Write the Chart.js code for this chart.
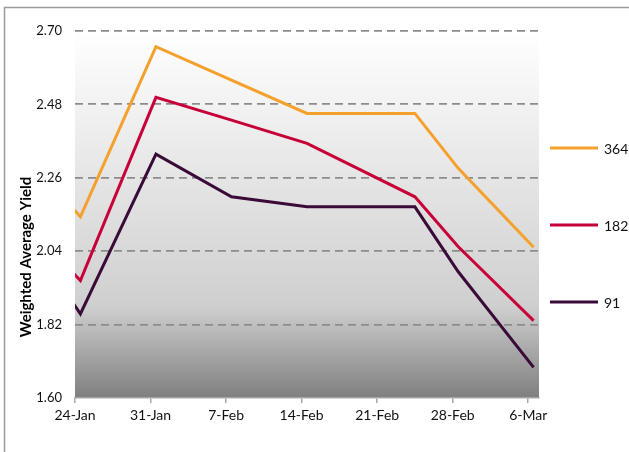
<!DOCTYPE html>
<html>
<head>
<meta charset="utf-8">
<script src="https://cdn.jsdelivr.net/npm/chart.js@4"></script>
<style>
  html, body { margin: 0; padding: 0; background: #fff; }
  #wrap { width: 629px; height: 452px; position: relative; }
</style>
</head>
<body>
<div id="wrap"><canvas id="miGrafica" width="629" height="452"></canvas></div>
<script>
// fechas de las subastas (la primera queda fuera del eje y se recorta)
const fechas = ['2012-01-17', '2012-01-24', '2012-01-31', '2012-02-07', '2012-02-14', '2012-02-24', '2012-02-28', '2012-03-06'];
const serie364 = [2.40, 2.143, 2.653, 2.553, 2.453, 2.453, 2.289, 2.052];
const serie182 = [2.19, 1.952, 2.501, 2.433, 2.363, 2.203, 2.054, 1.832];
const serie91  = [2.19, 1.852, 2.331, 2.203, 2.173, 2.173, 1.979, 1.692];
const etiquetasX = ['24-Jan', '31-Jan', '7-Feb', '14-Feb', '21-Feb', '28-Feb', '6-Mar'];
const nombres = ['364', '182', '91'];
const colores = ['#F5A02C', '#C8003A', '#3A0A38'];

const inicio = new Date('2012-01-24T00:00:00Z');
// dias desde 24-Jan, centrado en la casilla del dia
const dias = fechas.map(f => (new Date(f + 'T00:00:00Z') - inicio) / 86400000 + 0.5);
const puntos = serie => serie.map((v, i) => ({ x: dias[i], y: v }));

const fondo = {
    id: 'fondo',
    beforeDraw(chart) {
        const { ctx, chartArea: a } = chart;
        ctx.save();
        // marco exterior
        ctx.strokeStyle = '#9a9a9a';
        ctx.lineWidth = 1.5;
        ctx.beginPath();
        ctx.moveTo(4.5, 460);
        ctx.lineTo(4.5, 7.5);
        ctx.lineTo(640, 7.5);
        ctx.stroke();
        // degradado del area de trazado
        const g = ctx.createLinearGradient(0, a.top, 0, a.bottom);
        g.addColorStop(0, '#ffffff');
        g.addColorStop(0.45, '#e2e2e2');
        g.addColorStop(0.75, '#cfcfcf');
        g.addColorStop(1, '#7f7f7f');
        ctx.fillStyle = g;
        ctx.fillRect(a.left, a.top, a.right - a.left, a.bottom - a.top);
        ctx.restore();
    },
    afterDraw(chart) {
        const { ctx } = chart;
        ctx.save();
        // titulo del eje Y
        ctx.translate(26, 257);
        ctx.rotate(-Math.PI / 2);
        ctx.font = 'bold 15px Lato';
        ctx.fillStyle = '#000';
        ctx.textAlign = 'center';
        ctx.textBaseline = 'middle';
        ctx.fillText('Weighted Average Yield', 0, 0);
        ctx.restore();
        // leyenda a la derecha
        ctx.save();
        ctx.font = '14px Lato';
        ctx.textBaseline = 'middle';
        chart.data.datasets.forEach((ds, i) => {
            const y = 148 + i * 77;
            ctx.strokeStyle = ds.borderColor;
            ctx.lineWidth = 3;
            ctx.beginPath();
            ctx.moveTo(550, y);
            ctx.lineTo(598, y);
            ctx.stroke();
            ctx.fillStyle = '#111';
            ctx.fillText(ds.label, 604, y + 1);
        });
        ctx.restore();
    }
};

const ctx = document.getElementById('miGrafica').getContext('2d');
new Chart(ctx, {
    type: 'line',
    data: {
        datasets: [
            { label: nombres[0], data: puntos(serie364), borderColor: colores[0], borderWidth: 3, pointRadius: 0, tension: 0, fill: false },
            { label: nombres[1], data: puntos(serie182), borderColor: colores[1], borderWidth: 3, pointRadius: 0, tension: 0, fill: false },
            { label: nombres[2], data: puntos(serie91), borderColor: colores[2], borderWidth: 3, pointRadius: 0, tension: 0, fill: false }
        ]
    },
    options: {
        responsive: false,
        animation: false,
        layout: { padding: { left: 10, right: 90, top: 31, bottom: 0 } },
        plugins: { legend: { display: false }, tooltip: { enabled: false } },
        scales: {
            x: {
                type: 'linear',
                min: 0,
                max: 43,
                afterBuildTicks: s => { s.ticks = etiquetasX.map((_, i) => ({ value: i * 7 })); },
                afterFit: s => { s.height = 54; },
                grid: { drawOnChartArea: false, drawTicks: true, tickLength: 5, color: '#a6a6a6', lineWidth: 1.5 },
                border: { color: '#a6a6a6', width: 1.5 },
                ticks: {
                    font: { family: 'Lato', size: 14 },
                    color: '#111',
                    padding: 4,
                    maxRotation: 0,
                    autoSkip: false,
                    callback: (v, i) => etiquetasX[i]
                }
            },
            y: {
                min: 1.6,
                max: 2.7,
                afterFit: s => { s.width = 65; },
                grid: {
                    drawTicks: false,
                    color: c => (c.tick && c.tick.value <= 1.6001 ? 'rgba(0,0,0,0)' : '#8c8c8c'),
                    lineWidth: 1.8
                },
                border: { display: false, dash: [8, 5] },
                ticks: {
                    stepSize: 0.22,
                    padding: 13,
                    font: { family: 'Lato', size: 13 },
                    color: '#111',
                    callback: v => v.toFixed(2)
                }
            }
        }
    },
    plugins: [fondo]
});
</script>
</body>
</html>
